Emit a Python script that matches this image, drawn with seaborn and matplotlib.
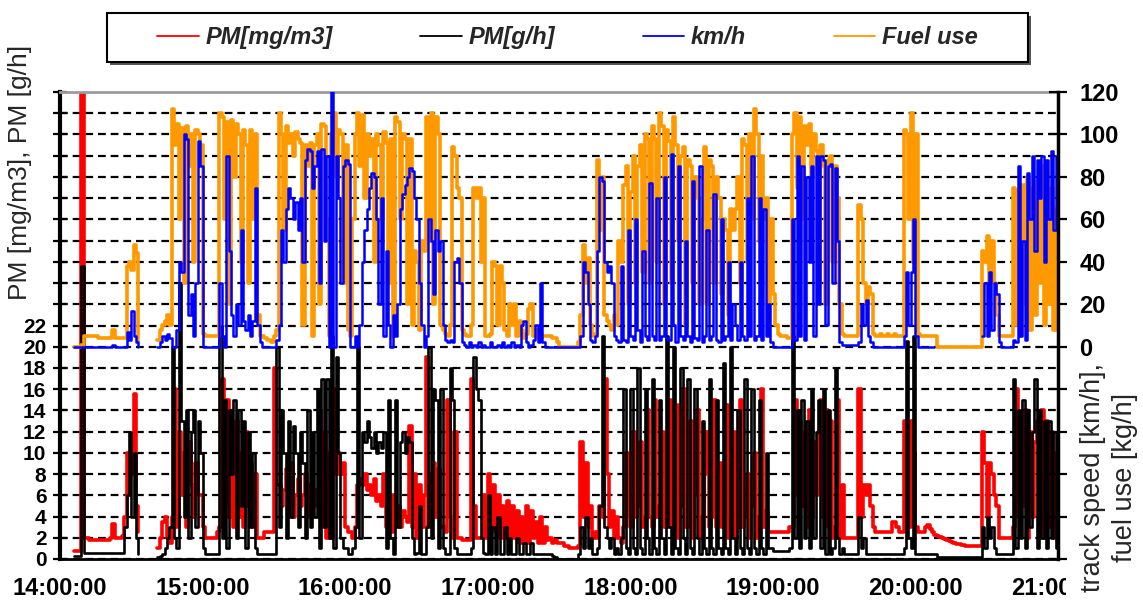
import numpy as np
import pandas as pd
import matplotlib
matplotlib.use("Agg")
import matplotlib.pyplot as plt
import seaborn as sns
from matplotlib.lines import Line2D
from matplotlib.patches import Rectangle
from matplotlib.font_manager import FontProperties

N = np.nan

# one value per minute, 14:00 ... 21:00
fuel_use = [
    N, N, N, N, N, N, 0, 0, 0, 1,
    5, 5, 5, 5, 5, 5, 4, 4, 4, 4,
    4, 4, 8, 4, 4, 4, 4, 4, 38, 40,
    36, 48, 44, 2, N, N, N, N, N, N,
    N, 3, 8, 10, 12, 15, 10, 112, 95, 105,
    60, 103, 30, 104, 85, 100, 40, 102, 100, 95,
    6, 5, 5, 5, 5, 5, 5, 110, 108, 60,
    106, 20, 107, 80, 105, 100, 40, 102, 95, 30,
    102, 60, 100, 15, 5, 5, 4, 3, 3, 2,
    5, 8, 110, 100, 55, 104, 96, 100, 90, 101,
    98, 96, 10, 95, 85, 96, 5, 95, 100, 20,
    105, 104, 60, 5, 100, 110, 80, 102, 100, 30,
    95, 8, 5, 60, 100, 110, 85, 109, 70, 100,
    90, 98, 40, 100, 95, 60, 101, 96, 30, 98,
    5, 108, 106, 60, 100, 98, 20, 98, 10, 45,
    40, 8, 50, 45, 108, 50, 110, 20, 108, 100,
    10, 8, 6, 5, 10, 94, 90, 75, 70, 8,
    6, 5, 5, 10, 75, 70, 75, 40, 70, 5,
    5, 6, 40, 38, 10, 38, 30, 8, 5, 20,
    10, 20, 5, 12, 8, 4, 6, 18, 20, 5,
    8, 4, 6, 5, 5, 5, 5, 4, 4, 2,
    0, 0, 0, 0, 0, 0, 0, 0, 2, 15,
    48, 30, 42, 10, 5, 6, 88, 55, 80, 15,
    12, 10, 8, 15, 10, 50, 40, 76, 85, 20,
    73, 90, 30, 85, 95, 35, 100, 98, 30, 104,
    98, 40, 110, 104, 20, 102, 97, 30, 108, 95,
    50, 90, 94, 10, 88, 85, 30, 80, 70, 20,
    60, 94, 20, 88, 85, 30, 80, 70, 25, 60,
    55, 15, 65, 55, 65, 80, 30, 98, 95, 40,
    100, 60, 112, 100, 50, 90, 60, 70, 20, 60,
    25, 10, 6, 5, 5, 5, 4, 4, 100, 110,
    75, 108, 60, 104, 95, 105, 80, 100, 92, 30,
    95, 85, 20, 88, 90, 40, 85, 70, 20, 6,
    5, 5, 5, 5, 5, 5, 67, 60, 30, 20,
    28, 25, 6, 5, 5, 6, 5, 5, 6, 5,
    5, 6, 5, 5, 5, 102, 100, 60, 110, 40,
    100, 6, 5, 5, 5, 5, 5, 5, 5, 0,
    0, 0, 0, 0, 0, 0, 0, 0, 0, 0,
    0, 0, 0, 0, 0, 0, 0, 0, 45, 40,
    52, 30, 50, 30, 15, 5, 5, 5, 5, 5,
    5, 75, 10, 74, 5, 76, 20, 80, 8, 75,
    15, 78, 30, 85, 10, 72, 20, 75, 8, 65,
    60,
]

speed_kmh = [
    N, N, N, N, N, N, 0, 0, 0, 0,
    0, 0, 0, 0, 0, 0, 0, 0, 0, 0,
    0, 0, 1, 0, 0, 0, 0, 0, 7, 3,
    17, 5, 2, 0, N, N, N, N, N, N,
    N, 0, 2, 5, 3, 6, 4, 0, 0, 8,
    40, 35, 100, 98, 15, 25, 5, 30, 97, 85,
    0, 0, 0, 0, 0, 0, 0, 30, 5, 0,
    90, 45, 15, 5, 20, 10, 55, 12, 8, 15,
    5, 12, 75, 10, 2, 0, 0, 0, 0, 0,
    0, 3, 10, 55, 40, 65, 75, 70, 60, 68,
    55, 70, 40, 88, 93, 92, 75, 85, 92, 30,
    93, 50, 90, 0, 121, 0, 90, 70, 30, 85,
    88, 86, 0, 0, 5, 0, 10, 40, 55, 65,
    75, 82, 80, 60, 20, 70, 5, 45, 10, 0,
    15, 5, 20, 65, 72, 76, 80, 84, 83, 70,
    60, 30, 10, 0, 5, 60, 50, 25, 55, 45,
    50, 10, 3, 2, 3, 2, 40, 42, 30, 2,
    1, 0, 2, 0, 1, 0, 2, 0, 1, 0,
    0, 2, 0, 0, 1, 0, 2, 0, 1, 0,
    2, 0, 1, 0, 10, 12, 2, 0, 1, 3,
    10, 2, 30, 2, 0, 0, 0, 0, 0, 0,
    0, 0, 0, 0, 0, 0, 0, 0, 0, 5,
    40, 35, 20, 3, 2, 5, 45, 80, 78, 40,
    35, 38, 30, 5, 3, 2, 38, 3, 2, 55,
    5, 3, 60, 8, 2, 45, 5, 3, 77, 5,
    3, 70, 3, 5, 80, 4, 3, 91, 10, 2,
    85, 5, 3, 50, 5, 2, 78, 4, 3, 85,
    2, 5, 55, 3, 5, 72, 3, 2, 60, 3,
    5, 40, 3, 20, 10, 3, 40, 5, 3, 70,
    5, 90, 3, 5, 70, 3, 65, 5, 20, 2,
    0, 0, 0, 0, 0, 0, 0, 0, 60, 3,
    90, 5, 85, 3, 80, 40, 85, 5, 90, 20,
    90, 88, 10, 85, 86, 30, 84, 50, 2, 1,
    1, 1, 1, 1, 1, 1, 2, 20, 10, 22,
    5, 2, 0, 0, 0, 0, 0, 0, 0, 0,
    0, 0, 0, 0, 0, 5, 35, 10, 35, 60,
    5, 0, 0, 0, 0, 0, 0, 0, 0, N,
    N, N, N, N, N, N, N, N, N, N,
    N, N, N, N, N, N, N, N, 5, 30,
    5, 35, 8, 30, 25, 2, 0, 0, 0, 0,
    0, 3, 2, 85, 5, 50, 3, 82, 60, 90,
    45, 88, 70, 90, 40, 88, 60, 92, 55, 90,
    88,
]

pm_mg_m3 = [
    N, N, N, N, N, N, 0.8, 0.8, 0.8, 60,
    2, 2, 1.8, 1.8, 1.8, 1.8, 1.8, 1.8, 1.8, 1.8,
    1.8, 2, 3.3, 2, 2, 2, 2.2, 4, 10, 10,
    8, 15.5, 5, 2.5, N, N, N, N, N, N,
    N, 1, 2, 3.5, 4, 2, 1.5, 4, 16, 3,
    12, 6, 10, 3, 11, 7, 4, 9, 6, 6,
    3, 2, 2, 2, 2, 2, 2.5, 3, 17, 5,
    15, 4, 12, 3, 13, 4, 10, 3, 12, 5,
    9, 3, 8, 2, 2, 2, 2.5, 2.5, 2.5, 2.5,
    18, 7, 7, 5, 6.5, 8.5, 5, 9, 4, 6,
    7.5, 5, 6, 8, 4, 7, 5, 6.5, 5, 14,
    3, 12, 2, 10, 2, 16, 8, 10, 8, 9,
    3, 2.5, 2.5, 2, 3, 7, 7.5, 7, 8, 6.5,
    7, 6, 7.5, 5.5, 6, 5, 8, 3, 5, 2.5,
    6, 4, 5, 3, 4.5, 4, 3.5, 12.5, 3, 8,
    2, 7, 3, 6, 19, 3, 8, 9, 4, 8.5,
    3, 3, 2.5, 15, 4, 2, 12, 2, 2, 1.8,
    1.8, 1.8, 1.8, 17, 5, 2, 2, 2, 6, 2,
    8, 3, 7, 2.5, 6, 2, 5, 2, 5.5, 2,
    5, 2, 4.5, 1.5, 4, 1.5, 5, 1.5, 4.5, 2,
    3.5, 1.5, 4, 1.5, 3, 1.8, 2, 1.5, 1.8, 1.5,
    1.5, 1.5, 1.2, 1.2, 1, 1, 1, 1, 1.2, 11,
    4, 9, 3, 5, 2, 2.5, 2, 5, 4, 17,
    8, 3, 4.5, 2, 4, 2, 1.5, 3, 10, 4,
    3, 12, 4, 5, 11, 3, 4, 14, 4, 3,
    15, 4, 5, 12, 3, 4, 15, 3, 3, 14.5,
    2, 5, 16, 3, 3, 13, 2, 6, 14, 2,
    4, 8, 12, 3, 4, 15, 3, 9, 3, 4,
    14.5, 2, 4, 12, 2, 3, 15, 3, 4, 8,
    2, 5, 10, 2, 4, 16, 3, 4.5, 2.5, 2.5,
    2.5, 2.5, 2.5, 2.5, 2.5, 2.5, 2.5, 3, 3, 15,
    6, 13, 5, 12, 3, 14, 4, 11, 6, 12,
    15, 4, 14, 3, 13, 2, 3, 15, 2, 7,
    2, 2, 2, 2, 2, 2, 16, 4, 7, 6,
    7, 5, 3, 2.5, 2.5, 2.5, 2.5, 2.5, 2.5, 2.5,
    3.5, 3.5, 3, 2.5, 2.5, 13, 4, 3, 13, 10,
    3, 2.5, 2.5, 2.5, 3, 3.2, 2.8, 2.5, 2.3, 2.2,
    2.1, 2, 1.9, 1.8, 1.7, 1.6, 1.5, 1.4, 1.4, 1.3,
    1.3, 1.2, 1.2, 1.2, 1.2, 1.2, 1.2, 1.2, 12, 9,
    4, 9, 8, 6, 5, 2, 2, 2, 2, 2,
    2, 3, 16, 4, 10, 5, 14, 2, 12, 4,
    11, 13, 3, 14, 2, 13, 3, 12, 2, 10,
    2,
]

pm_g_h = [
    N, N, N, N, N, N, 0.3, 0.3, 0.3, 27.6,
    0.6, 0.6, 0.6, 0.6, 0.6, 0.6, 0.6, 0.6, 0.6, 0.6,
    0.6, 0.6, 0.6, 0.6, 0.6, 0.6, 0.6, 3, 6, 12,
    4, 10, 2, 0.5, N, N, N, N, N, N,
    N, 0.2, 0.3, 0.5, 1, 2, 3, 20, 2, 1,
    26, 13, 4, 14, 2, 12, 14, 3, 13, 10,
    1, 0.5, 0.5, 0.5, 0.5, 0.5, 0.5, 22, 2, 15,
    1, 14, 8, 15, 2, 14, 5, 13, 1, 12,
    3, 10, 1, 0.5, 0.5, 0.5, 0.5, 0.5, 0.5, 0.5,
    0.5, 20, 3, 14, 10, 2, 13, 4, 12.5, 10,
    3, 12, 9, 2, 14, 3, 12, 4, 16, 1,
    17, 3, 17, 2, 21, 1, 19, 10, 2, 1,
    1, 0.5, 0.5, 1, 3, 20, 2, 12, 11, 13,
    11.5, 10.5, 12, 10, 11, 10.5, 12, 1, 15, 2,
    0.5, 15, 3, 11, 12, 10, 11.5, 11, 2, 0.5,
    0.6, 5, 0.5, 0.5, 3, 20, 2, 16, 15, 1,
    16, 1, 0.5, 0.5, 18, 15, 1, 0.5, 0.5, 0.5,
    0.5, 0.5, 0.5, 1, 19, 16, 15, 2, 0.6, 0.5,
    6, 0.5, 3, 0.5, 4, 0.5, 0.5, 3, 0.5, 2,
    0.5, 0.5, 2, 0.5, 0.5, 1.5, 0.5, 0.5, 1.5, 0.5,
    0.5, 0.5, 0.5, 0.5, 0.5, 0.5, 0.5, 0.3, 0.2, 0,
    0, 0, 0, 0, 0, 0, 0, 0, 0.5, 3,
    1, 4, 1, 2, 0.5, 0.5, 1, 5, 21, 3,
    2, 1, 2, 0.5, 1, 0.5, 2, 16, 1, 0.5,
    16, 1, 0.5, 18, 1, 0.5, 16, 2, 0.5, 17,
    1, 0.5, 15, 2, 0.5, 21, 3, 0.5, 20, 1,
    0.5, 18, 2, 0.5, 17, 1, 0.5, 16, 2, 0.5,
    13, 1, 0.5, 17, 1, 0.5, 15, 1, 0.5, 18.5,
    1, 0.5, 20, 2, 0.5, 14, 1, 0.5, 17, 1,
    0.5, 16, 1, 0.5, 15, 1, 0.5, 10, 1, 1,
    0.8, 0.8, 0.8, 0.8, 0.8, 0.8, 0.8, 1, 21, 2,
    14, 1, 15, 2, 13, 1, 16, 2, 12, 15,
    1, 16, 0.5, 14, 0.5, 1, 18, 2, 0.5, 1,
    0.5, 0.5, 0.5, 0.5, 0.5, 0.5, 4, 1, 2, 0.5,
    0.5, 0.5, 0.5, 0.5, 0.5, 0.5, 0.5, 0.5, 0.5, 0.5,
    0.5, 0.5, 0.5, 0.5, 0.5, 1, 20.5, 2, 1, 21,
    0.5, 0.5, 0.5, 0.5, 0.5, 0.5, 0.5, 0.5, 0.5, 0.2,
    0.2, 0.2, 0.2, 0.2, 0.2, 0.2, 0.2, 0.2, 0.2, 0.2,
    0.2, 0.2, 0.2, 0.2, 0.2, 0.2, 0.2, 0.2, 3, 1,
    4, 2, 3, 1, 0.5, 0.5, 0.5, 0.5, 0.5, 0.5,
    0.5, 17, 1, 14, 2, 15, 1, 14, 3, 12,
    17, 1, 14, 2, 13, 1, 13, 2, 12, 1,
    12,
]

series_labels = ["PM[mg/m3]", "PM[g/h]", "km/h", "Fuel use"]
series_colors = ["#ff0000", "#000000", "#0000ff", "#ff9900"]
x_tick_labels = ["14:00:00", "15:00:00", "16:00:00", "17:00:00",
                 "18:00:00", "19:00:00", "20:00:00", "21:00:00"]
left_ticks = list(range(0, 45, 2))
left_tick_labels = [str(v) if v <= 22 else "" for v in left_ticks]
right_ticks = list(range(-100, 121, 20))
right_tick_labels = [str(v) if v >= 0 else "" for v in right_ticks]

sns.set_theme(style="white")
plt.rcParams["font.family"] = ["Liberation Sans", "DejaVu Sans"]

t0 = pd.Timestamp("2000-01-01 14:00")
times = pd.date_range(t0, periods=len(fuel_use), freq="min")


def long_form(values):
    df = pd.DataFrame({"time": times, "value": values})
    df["seg"] = df["value"].isna().cumsum()
    return df.dropna()


W, H = 1143, 613
fig = plt.figure(figsize=(W / 100, H / 100), dpi=100)
L, R, T, B = 60, 1058, 92, 559
ax = fig.add_axes([L / W, 1 - B / H, (R - L) / W, (B - T) / H])
ax2 = ax.twinx()

for vals, col, axis, lw in [(pm_mg_m3, series_colors[0], ax, 2.6),
                            (pm_g_h, series_colors[1], ax, 1.9),
                            (fuel_use, series_colors[3], ax2, 2.6),
                            (speed_kmh, series_colors[2], ax2, 1.8)]:
    sns.lineplot(data=long_form(vals), x="time", y="value", units="seg",
                 estimator=None, color=col, lw=lw, ax=axis, legend=False,
                 drawstyle="steps-post")

xt = [t0 + pd.Timedelta(hours=i) for i in range(len(x_tick_labels))]
ax.set_xlim(xt[0], xt[-1])
ax.set_xticks(xt)
ax.set_xticklabels(x_tick_labels, fontsize=17, fontweight="bold")
ax.set_ylim(0, 44)
ax2.set_ylim(-100, 120)
ax.set_yticks(left_ticks)
ax.set_yticklabels(left_tick_labels, fontsize=15, fontweight="bold")
ax2.set_yticks(right_ticks)
ax2.set_yticklabels(right_tick_labels, fontsize=17, fontweight="bold")
ax.set_xlabel("")
ax.set_ylabel("")
ax2.set_ylabel("")

ax.yaxis.grid(True, color="black", linestyle=(0, (3.5, 2.2)), linewidth=1.6)
ax.xaxis.grid(False)
ax2.grid(False)
ax.get_ygridlines()[-1].set_visible(False)

ax.tick_params(axis="y", direction="inout", length=9.5, width=1.6, pad=5,
               colors="black")
ax.tick_params(axis="x", direction="out", length=6, width=1.6, pad=7,
               colors="black")
ax2.tick_params(axis="y", direction="inout", length=13, width=1.6, pad=9,
                colors="black")

ax.spines["right"].set_visible(False)
ax.spines["left"].set_color("black")
ax.spines["left"].set_linewidth(3)
ax.spines["bottom"].set_color("black")
ax.spines["bottom"].set_linewidth(2)
ax.spines["top"].set_color("#9a9a9a")
ax.spines["top"].set_linewidth(2)
for s in ["left", "bottom", "top"]:
    ax2.spines[s].set_visible(False)
ax2.spines["right"].set_color("black")
ax2.spines["right"].set_linewidth(2.5)

# axis titles
fig.text(20 / W, 1 - 172 / H, "PM [mg/m3], PM [g/h]", rotation=90,
         ha="center", va="center", fontsize=19, zorder=6)
fig.text(1109 / W, 1 - 477 / H, "track speed [km/h],\nfuel use [kg/h]",
         rotation=90, ha="center", va="center", fontsize=19.5,
         linespacing=1.3, multialignment="center", zorder=6)

# the last date label is cut by the right title
fig.add_artist(Rectangle((1066 / W, 0), (W - 1066) / W, (H - 566) / H,
                         transform=fig.transFigure, facecolor="white",
                         edgecolor="none", zorder=3))

# legend box
bx0, by0, bx1, by1 = 107, 13, 1028, 62
fig.add_artist(Rectangle(((bx0 + 3) / W, 1 - (by1 + 3) / H), (bx1 - bx0) / W,
                         (by1 - by0) / H, transform=fig.transFigure,
                         facecolor="#555555", edgecolor="none", zorder=4))
fig.add_artist(Rectangle((bx0 / W, 1 - by1 / H), (bx1 - bx0) / W,
                         (by1 - by0) / H, transform=fig.transFigure,
                         facecolor="white", edgecolor="black", lw=1.5,
                         zorder=4.5))
handles = [Line2D([], [], color=c, lw=1.3) for c in series_colors]
fig.legend(handles, series_labels, loc="center",
           bbox_to_anchor=((bx0 + bx1) / 2 / W, 1 - (by0 + by1) / 2 / H),
           ncol=4, frameon=False,
           prop=FontProperties(family=["Liberation Sans", "DejaVu Sans"],
                               weight="bold", style="italic", size=17),
           handlelength=1.75, handletextpad=0.3, columnspacing=3.7)

fig.savefig("out.png", dpi=100, facecolor="white")
